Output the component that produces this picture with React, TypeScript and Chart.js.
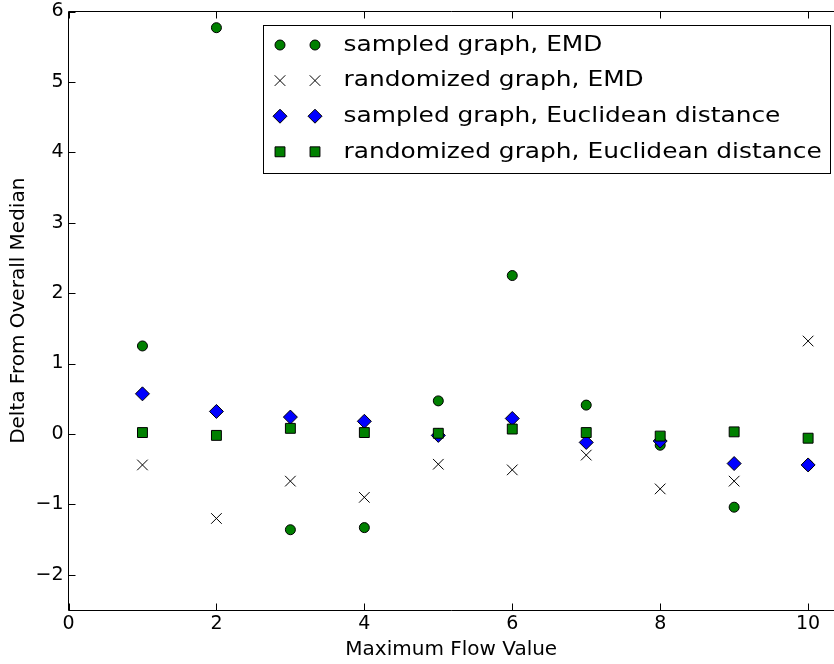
import React, { useEffect, useRef } from 'react';
import { Chart, registerables } from 'chart.js';

Chart.register(...registerables);

const FONT = '"DejaVu Sans", "Liberation Sans", sans-serif';

const xValues = [1, 2, 3, 4, 5, 6, 7, 8, 9, 10];
const sampledEMD = [1.25, 5.77, -1.36, -1.33, 0.47, 2.25, 0.41, -0.16, -1.04, -0.44];
const randomizedEMD = [-0.44, -1.2, -0.67, -0.9, -0.43, -0.51, -0.3, -0.78, -0.67, 1.32];
const sampledEuclid = [0.57, 0.32, 0.24, 0.18, -0.02, 0.22, -0.12, -0.1, -0.42, -0.44];
const randomizedEuclid = [0.02, -0.02, 0.08, 0.02, 0.01, 0.07, 0.02, -0.03, 0.03, -0.06];

const seriesLabels = [
  'sampled graph, EMD',
  'randomized graph, EMD',
  'sampled graph, Euclidean distance',
  'randomized graph, Euclidean distance',
];

const xTicks = [0, 2, 4, 6, 8, 10];
const yTicks = [-2, -1, 0, 1, 2, 3, 4, 5, 6];

const xTitle = 'Maximum Flow Value';
const yTitle = 'Delta From Overall Median';

const fmt = (v: number) => (v < 0 ? '\u2212' + Math.abs(v) : String(v));

function drawMarker(ctx: CanvasRenderingContext2D, style: string, x: number, y: number, r: number, fill: string, stroke: string, lw: number) {
  ctx.save();
  ctx.beginPath();
  ctx.lineWidth = lw;
  ctx.strokeStyle = stroke;
  ctx.fillStyle = fill;
  if (style === 'circle') {
    ctx.arc(x, y, r, 0, Math.PI * 2);
    ctx.closePath();
    ctx.fill();
    ctx.stroke();
  } else if (style === 'rectRot') {
    ctx.moveTo(x - r, y);
    ctx.lineTo(x, y - r);
    ctx.lineTo(x + r, y);
    ctx.lineTo(x, y + r);
    ctx.closePath();
    ctx.fill();
    ctx.stroke();
  } else if (style === 'rect') {
    const s = Math.SQRT1_2 * r;
    ctx.rect(x - s, y - s, 2 * s, 2 * s);
    ctx.fill();
    ctx.stroke();
  } else if (style === 'crossRot') {
    const s = Math.SQRT1_2 * r;
    ctx.moveTo(x - s, y - s);
    ctx.lineTo(x + s, y + s);
    ctx.moveTo(x - s, y + s);
    ctx.lineTo(x + s, y - s);
    ctx.stroke();
  }
  ctx.restore();
}

const axesPlugin = {
  id: 'mplAxes',
  afterDatasetsDraw(chart: any) {
    const { ctx, chartArea: a, scales } = chart;
    const xs = scales.x;
    const ys = scales.y;
    const L = Math.floor(a.left) + 0.5;
    const T = Math.floor(a.top) + 0.5;
    const B = Math.floor(a.bottom) + 0.5;
    const R = a.right + 2;
    ctx.save();
    ctx.strokeStyle = '#000';
    ctx.lineWidth = 1;
    ctx.beginPath();
    ctx.moveTo(R, T);
    ctx.lineTo(L, T);
    ctx.lineTo(L, B);
    ctx.lineTo(R, B);
    ctx.stroke();
    const tl = 7;
    ctx.beginPath();
    xTicks.forEach((v) => {
      const px = Math.round(xs.getPixelForValue(v)) + 0.5;
      ctx.moveTo(px, B);
      ctx.lineTo(px, B - tl);
      ctx.moveTo(px, T);
      ctx.lineTo(px, T + tl);
    });
    yTicks.forEach((v) => {
      const py = Math.round(ys.getPixelForValue(v)) + 0.5;
      ctx.moveTo(L, py);
      ctx.lineTo(L + tl, py);
    });
    ctx.stroke();
    ctx.restore();
  },
};

const legendPlugin = {
  id: 'mplLegend',
  afterDraw(chart: any) {
    const { ctx, chartArea: a } = chart;
    const datasets = chart.data.datasets;
    const fontSize = 22;
    const sx = 1.13;
    const left = a.left + 194.5;
    const top = a.top + 13;
    const rowH = 35.6;
    const firstRow = top + 20.5;
    const textX = left + 80.5;
    ctx.save();
    ctx.font = `${fontSize}px ${FONT}`;
    let maxW = 0;
    datasets.forEach((d: any) => {
      maxW = Math.max(maxW, ctx.measureText(d.label).width * sx);
    });
    const right = textX + maxW + 8;
    const bottom = firstRow + rowH * (datasets.length - 1) + 20.5;
    ctx.fillStyle = '#fff';
    ctx.fillRect(left, top, right - left, bottom - top);
    ctx.strokeStyle = '#000';
    ctx.lineWidth = 1;
    ctx.strokeRect(Math.round(left) + 0.5, Math.round(top) + 0.5, Math.round(right - left), Math.round(bottom - top));
    datasets.forEach((d: any, i: number) => {
      const y = firstRow + i * rowH;
      [left + 17, left + 52].forEach((mx) => {
        drawMarker(ctx, d.pointStyle, mx, y, d.pointRadius, d.pointBackgroundColor, d.pointBorderColor, d.pointBorderWidth);
      });
      ctx.save();
      ctx.translate(textX, y);
      ctx.scale(sx, 1);
      ctx.fillStyle = '#000';
      ctx.textBaseline = 'middle';
      ctx.textAlign = 'left';
      ctx.font = `${fontSize}px ${FONT}`;
      ctx.fillText(d.label, 0, 0);
      ctx.restore();
    });
    ctx.restore();
  },
};

const toPoints = (arr: number[]) => xValues.map((x, i) => ({ x, y: arr[i] }));

export default function App() {
  const ref = useRef<HTMLCanvasElement>(null);
  useEffect(() => {
    const canvas = ref.current;
    if (!canvas) return;
    const chart = new Chart(canvas, {
      type: 'scatter',
      data: {
        datasets: [
          {
            label: seriesLabels[0],
            data: toPoints(sampledEMD),
            pointStyle: 'circle',
            pointRadius: 5,
            pointBackgroundColor: '#008000',
            pointBorderColor: '#000',
            pointBorderWidth: 1,
            order: 4,
          },
          {
            label: seriesLabels[1],
            data: toPoints(randomizedEMD),
            pointStyle: 'crossRot',
            pointRadius: 7.5,
            pointBackgroundColor: '#000',
            pointBorderColor: '#000',
            pointBorderWidth: 1,
            order: 3,
          },
          {
            label: seriesLabels[2],
            data: toPoints(sampledEuclid),
            pointStyle: 'rectRot',
            pointRadius: 7,
            pointBackgroundColor: '#0000ff',
            pointBorderColor: '#000',
            pointBorderWidth: 1,
            order: 2,
          },
          {
            label: seriesLabels[3],
            data: toPoints(randomizedEuclid),
            pointStyle: 'rect',
            pointRadius: 7,
            pointBackgroundColor: '#008000',
            pointBorderColor: '#000',
            pointBorderWidth: 1,
            order: 1,
          },
        ] as any,
      },
      options: {
        responsive: false,
        devicePixelRatio: 1,
        animation: false,
        events: [],
        layout: { autoPadding: false, padding: { top: 11.5, right: 0, left: 0, bottom: 0 } },
        plugins: {
          legend: { display: false },
          tooltip: { enabled: false },
        },
        scales: {
          x: {
            type: 'linear',
            position: 'bottom',
            min: 0,
            max: 10.35,
            grid: { display: false, drawTicks: false },
            border: { display: false },
            afterBuildTicks: (s: any) => {
              s.ticks = xTicks.map((v) => ({ value: v }));
            },
            afterFit: (s: any) => {
              s.height = 54;
              s.paddingLeft = 0;
              s.paddingRight = 0;
            },
            ticks: {
              padding: 3,
              color: '#000',
              maxRotation: 0,
              autoSkip: false,
              font: { family: FONT, size: 19 },
              callback: (v: any) => fmt(Number(v)),
            },
            title: {
              display: true,
              text: xTitle,
              color: '#000',
              font: { family: FONT, size: 20 },
              padding: { top: 0, bottom: 2 },
            },
          },
          y: {
            type: 'linear',
            min: -2.5,
            max: 6,
            grid: { display: false, drawTicks: false },
            border: { display: false },
            afterBuildTicks: (s: any) => {
              s.ticks = yTicks.map((v) => ({ value: v }));
            },
            afterFit: (s: any) => {
              s.width = 68.5;
              s.paddingTop = 0;
              s.paddingBottom = 0;
            },
            ticks: {
              padding: 5,
              color: '#000',
              autoSkip: false,
              font: { family: FONT, size: 19 },
              callback: (v: any) => fmt(Number(v)),
            },
            title: {
              display: true,
              text: yTitle,
              color: '#000',
              font: { family: FONT, size: 20 },
              padding: { top: 7, bottom: 0 },
            },
          },
        },
      } as any,
      plugins: [axesPlugin, legendPlugin],
    });
    return () => chart.destroy();
  }, []);

  return (
    <div style={{ position: 'fixed', left: 0, top: 0, width: 834, height: 664, background: '#fff' }}>
      <canvas ref={ref} width={834} height={664} style={{ display: 'block', width: 834, height: 664 }} />
    </div>
  );
}
